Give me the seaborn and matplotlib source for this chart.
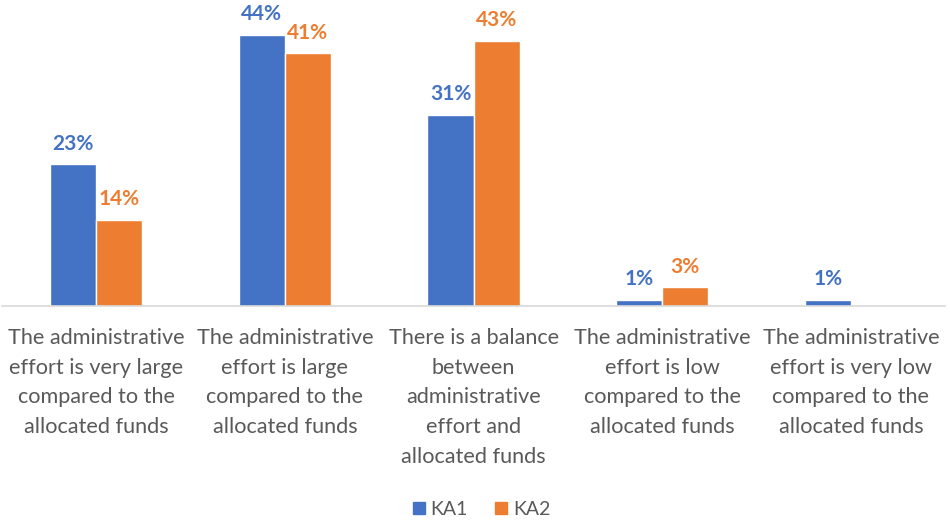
import matplotlib
matplotlib.use("Agg")
import matplotlib.pyplot as plt
import seaborn as sns
import pandas as pd
import numpy as np
from matplotlib.lines import Line2D

categories = [
    "The administrative\neffort is very large\ncompared to the\nallocated funds",
    "The administrative\neffort is large\ncompared to the\nallocated funds",
    "There is a balance\nbetween\nadministrative\neffort and\nallocated funds",
    "The administrative\neffort is low\ncompared to the\nallocated funds",
    "The administrative\neffort is very low\ncompared to the\nallocated funds",
]
ka1 = [23, 44, 31, 1, 1]
ka2 = [14, 41, 43, 3, np.nan]
series = ["KA1", "KA2"]
colors = {"KA1": "#4472C4", "KA2": "#ED7D31"}

df = pd.DataFrame({
    "category": categories * 2,
    "series": ["KA1"] * len(categories) + ["KA2"] * len(categories),
    "value": ka1 + ka2,
})

sns.set_theme(style="white")
plt.rcParams["font.family"] = ["Lato", "DejaVu Sans"]
text_color = "#595959"

fig = plt.figure(figsize=(9.5, 5.21), dpi=100)
ax = fig.add_axes([0.002, 0.4127, 0.993, 0.5873])

sns.barplot(data=df, x="category", y="value", hue="series", hue_order=series,
            palette=colors, width=0.49, saturation=1, ax=ax, legend=False,
            errorbar=None)

ax.set_ylim(0, 49.6)
ax.set_xlim(-0.5, len(categories) - 0.5)
ax.set_xlabel("")
ax.set_ylabel("")
ax.set_yticks([])
for side in ["left", "right", "top"]:
    ax.spines[side].set_visible(False)
ax.spines["bottom"].set_color("#D9D9D9")
ax.spines["bottom"].set_linewidth(1.2)
ax.tick_params(axis="x", length=0, pad=16)
ax.set_xticks(range(len(categories)))
ax.set_xticklabels(categories, fontsize=15.6, color=text_color, linespacing=1.6,
                   va="top")

# value labels above each bar
for container, name in zip(ax.containers, series):
    for bar in container:
        h = bar.get_height()
        if np.isnan(h) or h == 0:
            continue
        ax.annotate(f"{h:.0f}%", (bar.get_x() + bar.get_width() / 2, h),
                    xytext=(0, 7.5), textcoords="offset points",
                    ha="center", va="bottom", fontsize=15,
                    fontweight="bold", color=colors[name], clip_on=False)

handles = [Line2D([0], [0], marker="s", linestyle="", markersize=9,
                  markerfacecolor=colors[s], markeredgecolor=colors[s])
           for s in series]
fig.legend(handles, series, loc="center", bbox_to_anchor=(0.505, 0.023),
           ncol=2, frameon=False, fontsize=14, labelcolor=text_color,
           handletextpad=0.1, columnspacing=1.2, handlelength=1.0)

fig.savefig("out.png", dpi=100)
